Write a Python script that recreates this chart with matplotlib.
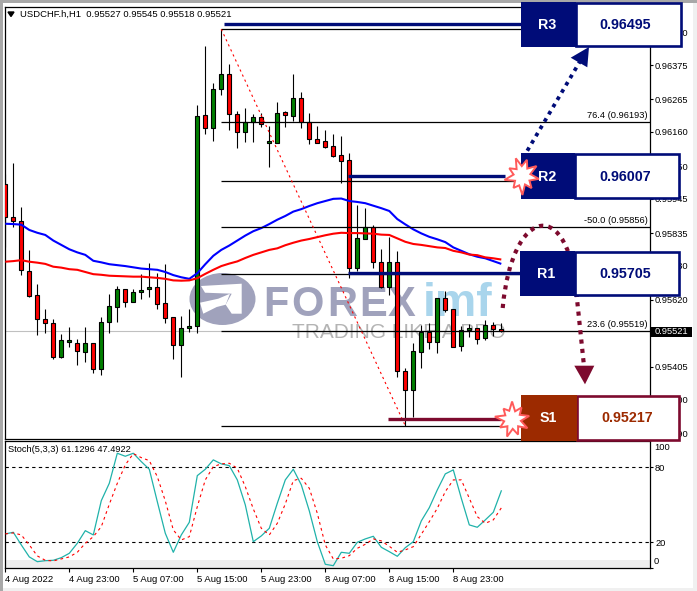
import numpy as np
import matplotlib
matplotlib.use("Agg")
import matplotlib.pyplot as plt
from matplotlib.patches import Rectangle, Polygon, Ellipse, PathPatch
from matplotlib.path import Path
from matplotlib.ticker import FixedLocator

plt.rcParams['font.family'] = ['Liberation Sans', 'DejaVu Sans']

# ---------- data (prices in 1e-5 units) ----------
opens = [95993,95886,95875,95714,95635,95558,95545,95438,95486,95481,95452,95481,95398,95549,95599,95655,
         95613,95645,95655,95661,95610,95565,95475,95529,95536,96213,96172,96297,96345,96217,96159,96193,
         96207,96124,96124,96223,96212,96268,96191,96136,96130,96114,96085,96069,95722,95815,95854,95741,
         95663,95741,95391,95330,95454,95516,95484,95626,95590,95473,95523,95529,95497,95539,95527]
closes = [95887,95875,95717,95634,95558,95545,95438,95491,95491,95455,95481,95398,95549,95600,95655,95615,
          95645,95651,95661,95606,95563,95475,95529,95536,96210,96172,96297,96345,96217,96159,96193,96207,
          96185,96130,96220,96213,96268,96191,96136,96125,96111,96084,96068,95722,95818,95854,95741,95663,
          95741,95391,95330,95455,95516,95484,95626,95589,95468,95523,95529,95494,95539,95526,95521]
highs = [96025,96060,95919,95781,95672,95591,95559,95511,95532,95495,95532,95482,95565,95639,95665,95655,
         95655,95703,95740,95707,95736,95566,95569,95591,96246,96436,96316,96490,96377,96226,96236,96217,
         96220,96179,96255,96226,96346,96287,96220,96179,96166,96153,96147,96091,95925,95915,95861,95784,
         95823,95778,95401,95481,95540,95545,95626,95649,95590,95537,95542,95531,95555,95549,95545]
lows = [95790,95856,95700,95631,95506,95515,95431,95435,95470,95412,95421,95387,95380,95513,95550,95599,
        95613,95622,95631,95590,95545,95430,95372,95518,95515,96153,96132,96279,96166,96109,96129,96129,
        96177,96048,96124,96177,96196,96174,96121,96125,96107,96080,95997,95690,95714,95815,95724,95658,
        95636,95374,95216,95245,95400,95462,95451,95583,95468,95457,95502,95479,95492,95505,95518]
ma_blue = [95865,95864,95862,95845,95836,95829,95811,95797,95783,95773,95765,95746,95741,95735,95732,95729,
           95725,95721,95719,95717,95710,95700,95693,95688,95706,95735,95762,95781,95795,95811,95827,95841,
           95851,95864,95878,95890,95904,95912,95922,95931,95938,95945,95946,95938,95935,95931,95923,95915,
           95906,95880,95863,95847,95834,95823,95815,95806,95789,95778,95767,95759,95754,95745,95736]
ma_red = [95743,95745,95748,95743,95740,95736,95727,95724,95719,95717,95710,95703,95701,95698,95697,95696,
          95695,95695,95693,95691,95688,95683,95682,95683,95690,95704,95717,95729,95737,95744,95755,95765,
          95773,95781,95786,95796,95804,95811,95816,95822,95828,95833,95836,95835,95835,95834,95833,95830,
          95829,95818,95807,95800,95797,95793,95789,95787,95778,95773,95766,95764,95757,95754,95750]
stoch_main = [26.7,28,17.9,8.3,4.5,5.3,5.6,7.7,11.2,19.2,29.3,25.9,53.3,67.2,91.2,88.8,91.2,84.5,78.4,52.5,
              27.2,12,25.9,36,73.3,78.4,85.9,82.7,81.3,69.9,49.9,20.5,25.1,31.2,51.2,69.9,78.4,65.9,45.1,
              20.5,2.4,1.3,12,11.2,20,22.7,24.8,16,12.5,8.8,15.7,20.5,37.1,47.7,61.9,74.7,77.9,55.2,33.9,
              32,37.9,44,61.13]
stoch_signal = [26.7,27.5,25.9,17.9,9.1,5.6,5.1,6.7,8.3,12,19.2,24.5,32.5,50.4,67.2,81.9,90.9,87.7,85.3,72.5,
                53.1,29.9,21.9,24.5,48.5,69.9,80.5,82.7,83.2,79.2,64.5,46.7,31.2,25.9,35.2,50.7,69.3,71.2,
                63.2,43.2,17.9,6.7,7.2,9.3,15.2,18.4,22.7,21.1,16.8,12,13.9,16.5,26.4,36.5,47.2,60.5,69.9,
                69.9,55.2,40.5,35.2,37.9,47.49]
fib_levels = [96490,96193,96003,95856,95703,95519,95216]
fib_labels = {96193: "76.4 (0.96193)", 95856: "-50.0 (0.95856)", 95519: "23.6 (0.95519)"}
price_ticks = [96480,96375,96265,96160,96050,95945,95835,95730,95620,95405,95300,95190]
time_ticks = [0,8,16,24,32,40,48,56]
time_labels = ["4 Aug 2022","4 Aug 23:00","5 Aug 07:00","5 Aug 15:00","5 Aug 23:00",
               "8 Aug 07:00","8 Aug 15:00","8 Aug 23:00"]
level_names = ["R3","R2","R1","S1"]
level_values = ["0.96495","0.96007","0.95705","0.95217"]
level_draw = [96506,96018,95706,95237]
level_start = [27.3,42.8,42.8,47.8]
level_end = [64.5,62.5,64.5,62]
last_price = 95521

W, H = 697, 591
NAVY = "#000c78"
MAROON = "#7d0a2e"
RUST = "#9c2a00"

fig = plt.figure(figsize=(W/100, H/100), dpi=100, facecolor="#f0f0f0")

def rect(l, t, r, b):
    return [l/W, (H-b)/H, (r-l)/W, (b-t)/H]

# underlay: window and watermark, in picture pixels
under = fig.add_axes([0,0,1,1], zorder=0)
under.set_xlim(0,W); under.set_ylim(H,0); under.axis("off")
under.add_patch(Rectangle((3,3),690,585,fc="white",ec="none"))
under.add_patch(Rectangle((0,0),W,2.5,fc="#a8a8a8",ec="none"))
under.add_patch(Rectangle((0,0),3,H,fc="#a8a8a8",ec="none"))
WM = "#a0a2bc"
under.add_patch(Ellipse((222.5,299),66,52,fc=WM,ec="none"))
under.add_patch(Polygon([(201,286),(241.7,283.7),(241.7,313.7),(231.7,313.7),(225.7,304.7),(231.7,293.7),(205,292.7)],fc="white",ec="none"))
under.add_patch(Polygon([(200,302.7),(218.3,298.7),(230,293.7),(225.7,304.7),(216.7,307),(203.3,313.7)],fc="white",ec="none"))
for ch, x in zip("FOREX",[263,291,327,359,388]):
    under.text(x,316,ch,fontsize=30,fontweight="bold",color=WM,ha="left",va="baseline")
under.text(423,316,"imf",fontsize=33.5,fontweight="bold",color="#a9d5ec",ha="left",va="baseline")
under.text(292,338,"TRADING LIKE A PRO",fontsize=15,color="#b4b4b4",ha="left",va="baseline")

# main pane
idx = np.arange(len(opens))
ax = fig.add_axes(rect(4.5,6.5,649.5,438.5), zorder=2)
ax.patch.set_alpha(0)
ax.set_xlim(-0.1,80.525)
ax.set_ylim(0.95175,0.96563)
o,c,h,l = [np.array(a)/1e5 for a in (opens,closes,highs,lows)]
ax.axhline(last_price/1e5,color="#c0c0c0",lw=0.8,zorder=1)
ax.vlines(idx,l,h,color="black",lw=0.8,zorder=2)
cols = ["#ff0000" if a>b else "#007f00" for a,b in zip(o,c)]
ax.bar(idx,np.abs(o-c),bottom=np.minimum(o,c),width=0.5,color=cols,edgecolor="black",lw=0.8,zorder=3)
ax.plot(idx,np.array(ma_blue)/1e5,color="#0000ff",lw=1.5,zorder=4,solid_capstyle="butt")
ax.plot(idx,np.array(ma_red)/1e5,color="#ff0000",lw=1.5,zorder=4,solid_capstyle="butt")
for lv in fib_levels:
    ax.hlines(lv/1e5,27,80.525,color="black",lw=0.9,zorder=5)
    if lv in fib_labels:
        ax.annotate(fib_labels[lv],(80.3,lv/1e5),xytext=(0,1.4),textcoords="offset points",
                    ha="right",va="bottom",fontsize=6.7,color="black",zorder=5)
ax.plot([27,50],[highs[27]/1e5,lows[50]/1e5],color="#ff0000",lw=0.8,ls=(0,(2,3)),zorder=5)
for v,a,b,col in zip(level_draw,level_start,level_end,[NAVY,NAVY,NAVY,MAROON]):
    ax.hlines(v/1e5,a,b,color=col,lw=2.4,zorder=6)
ax.yaxis.tick_right()
ax.yaxis.set_major_locator(FixedLocator(np.array(price_ticks)/1e5))
ax.set_yticklabels([f"{t/1e5:.5f}" for t in price_ticks])
ax.tick_params(axis="y",length=2.2,width=0.8,pad=1.8,labelsize=6.7)
ax.set_xticks([])
for s in ax.spines.values():
    s.set_linewidth(0.9)

# stochastic pane
sx = fig.add_axes(rect(4.5,441,649.5,568.3), zorder=2)
sx.set_xlim(-0.1,80.525)
sx.set_ylim(-0.8,101)
sx.axhspan(-0.8,5.8,color="#eeeeee",lw=0,zorder=0)
sx.axhline(80,color="black",lw=0.8,ls=(0,(3,3)),zorder=1)
sx.axhline(20,color="black",lw=0.8,ls=(0,(3,3)),zorder=1)
sx.plot(idx,stoch_main,color="#20b2aa",lw=0.9,zorder=2)
sx.plot(idx,stoch_signal,color="#ff0000",lw=0.8,ls=(0,(2.5,3)),zorder=3)
sx.text(0.006,0.935,"Stoch(5,3,3) 61.1296 47.4922",transform=sx.transAxes,fontsize=6.7,ha="left",va="center")
sx.yaxis.tick_right()
sx.set_yticks([80,20,-0.4])
sx.set_yticklabels(["80","20",""])
sx.tick_params(axis="y",length=2.2,width=0.8,pad=1.8,labelsize=6.7)
for val,lab in [(96,"100"),(4.8,"0")]:
    sx.annotate(lab,(1,val),xycoords=("axes fraction","data"),xytext=(3.2,0),textcoords="offset points",
                fontsize=6.7,ha="left",va="center",annotation_clip=False)
sx.set_xticks(time_ticks)
sx.set_xticklabels(time_labels,ha="left",fontsize=6.8)
sx.tick_params(axis="x",length=2.6,width=0.8,pad=2.4)
for s in sx.spines.values():
    s.set_linewidth(0.9)

# overlay: annotation graphics, in picture pixels
ov = fig.add_axes([0,0,1,1], zorder=10)
ov.set_xlim(0,W); ov.set_ylim(H,0); ov.axis("off"); ov.patch.set_alpha(0)

ov.fill([8,14,11],[12,12,16.5],color="black")
ov.text(20,14.5,"USDCHF.h,H1  0.95527 0.95545 0.95518 0.95521",fontsize=6.8,ha="left",va="center")

ov.add_patch(Rectangle((651,327),41,9.8,fc="black",ec="none"))
ov.text(655,331.9,f"{last_price/1e5:.5f}",color="white",fontsize=6.7,ha="left",va="center")

# dotted arrows
DOT = (0,(1,1.25))
ov.plot([523,582],[158,58],color=NAVY,lw=2.7,ls=DOT,dash_capstyle="butt")
ov.add_patch(Polygon([(589,47),(570.7,57.7),(587.3,67.3)],fc=NAVY,ec="none"))
arc = Path([(502.7,308),(512,205),(570,195),(577,299),(584,366)],
           [Path.MOVETO,Path.CURVE4,Path.CURVE4,Path.CURVE4,Path.LINETO])
ov.add_patch(PathPatch(arc,fc="none",ec=MAROON,lw=3.0,ls=DOT,capstyle="butt"))
ov.add_patch(Polygon([(574.3,365.7),(594.3,365.7),(585,384.3)],fc=MAROON,ec="none"))

# level boxes
boxes = [(521,1.7,681.5,47.3,576,NAVY,NAVY,NAVY,-3.5),
         (521,153.3,680,199,575,NAVY,NAVY,NAVY,-2.5),
         (520,251,680,296,575,NAVY,NAVY,NAVY,-2.5),
         (521,395,680,441,577,RUST,MAROON,RUST,-1.5)]
for (x0,y0,x1,y1,sp,fill,border,tc,dx),nm,val in zip(boxes,level_names,level_values):
    ov.add_patch(Rectangle((sp,y0+1),x1-sp-1,y1-y0-2,fc="white",ec=border,lw=1.9,zorder=3))
    ov.add_patch(Rectangle((x0,y0),sp-x0,y1-y0,fc=fill,ec="none",zorder=4))
    ym = (y0+y1)/2
    ov.text((x0+sp)/2-1,ym+0.5,nm,color="white",fontsize=10.3,fontweight="bold",ha="center",va="center",zorder=5)
    ov.text((sp+x1)/2+dx,ym+0.5,val,color=tc,fontsize=10.3,fontweight="bold",ha="center",va="center",zorder=5)

# burst marks
def burst(cx,cy,rx,ry,radii):
    n = len(radii)
    ang = np.linspace(0,2*np.pi,n,endpoint=False)+0.15
    pts = [(cx+rx*r*np.cos(a),cy+ry*r*np.sin(a)) for r,a in zip(radii,ang)]
    ov.add_patch(Polygon(pts,fc="white",ec="#ff5a5a",lw=1.4,joinstyle="miter",zorder=6))
shape = [1.0,0.5,0.85,0.48,1.0,0.52,0.8,0.48,1.05,0.5,0.85,0.48,1.0,0.52,0.9,0.5,1.0,0.5]
burst(522,176,17,19,shape)
burst(512.5,419.5,17,18,shape[::-1])

fig.savefig("out.png",dpi=100,facecolor=fig.get_facecolor())
